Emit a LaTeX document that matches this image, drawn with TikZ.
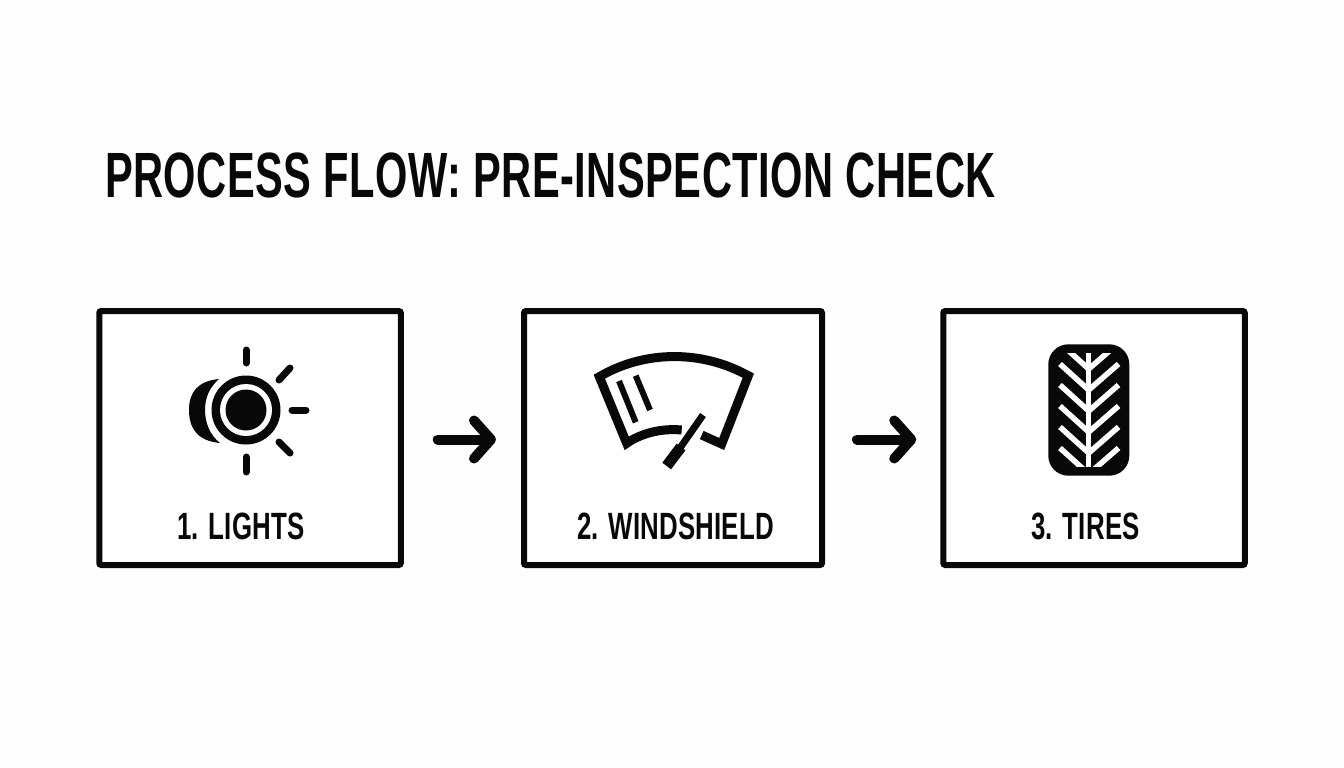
\documentclass[tikz,border=0pt]{standalone}
\usepackage{fontspec}
\setmainfont{Liberation Sans}
\newfontfamily\titlefont{Liberation Sans}[FakeStretch=0.65, LetterSpace=0.8]
\newfontfamily\labelfont{Liberation Sans}[FakeStretch=0.68, LetterSpace=0.5]
\usetikzlibrary{arrows.meta}

\definecolor{inkblack}{RGB}{8,8,8}
\definecolor{paperwhite}{RGB}{254,254,254}

\tikzset{
    stepbox/.style={draw=inkblack, line width=6pt, rounded corners=2pt, fill=white,
        minimum width=301.5pt, minimum height=254pt, inner sep=0pt},
    steplabel/.style={text=inkblack, font=\labelfont\fontsize{38}{38}\selectfont\bfseries, inner sep=0pt},
    flowarrow/.style={draw=inkblack, line width=10pt, line cap=round,
        -{Straight Barb[round, length=17pt, width=38pt, line width=10pt]}},
    ray/.style={draw=inkblack, line width=7pt, line cap=round},
    glass/.style={draw=inkblack, line width=9pt, miter limit=10},
    tread/.style={draw=white, line width=5.5pt}
}

\begin{document}
\begin{tikzpicture}[x=1pt, y=-1pt]

    \useasboundingbox [fill=paperwhite] (0,0) rectangle (1344,768);

    \node [anchor=west, inner sep=0pt, text=inkblack, font=\titlefont\fontsize{64}{64}\selectfont\bfseries] (title) at (105,175) {PROCESS FLOW: PRE-INSPECTION CHECK};

    \node [stepbox] (lights) at (250,438) {};
    \node [stepbox, minimum width=298pt] (wiper) at (673,438) {};
    \node [stepbox] (tires) at (1094,438) {};

    \node [steplabel] (lightslabel) at (241,526) {1. LIGHTS};
    \node [steplabel] (wiperlabel) at (675.5,526) {2. WINDSHIELD};
    \node [steplabel] (tireslabel) at (1085.5,526) {3. TIRES};

    \draw [flowarrow, shorten <=34pt, shorten >=25pt] ([yshift=-1.5pt]lights.east) -- ([yshift=-1.5pt]wiper.west);
    \draw [flowarrow, shorten <=32pt, shorten >=24pt] ([yshift=-1.5pt]wiper.east) -- ([yshift=-1.5pt]tires.west);

    % lights
    \fill [inkblack] (246,410) circle (34.5);
    \fill [white] (246,410) circle (26);
    \fill [inkblack] (246,410) circle (20.5);
    \fill [inkblack] (219,379) .. controls (198,381) and (189,392) .. (189,410)
        .. controls (189,430) and (199,441) .. (220,443)
        .. controls (210,435) and (205,423) .. (205,410)
        .. controls (205,397) and (210,387) .. (219,379) -- cycle;
    \draw [ray] (246,350) -- (246,363);
    \draw [ray] (246,457) -- (246,472);
    \draw [ray] (292,410) -- (306,410);
    \draw [ray] (279,380) -- (290,368);
    \draw [ray] (279,442) -- (290,453);

    % windshield
    \draw [glass] (681.7,430) .. controls (660,428) and (640,434) .. (626.7,443.3)
        -- (599.3,376.7) .. controls (645,350) and (702,350) .. (748.3,375.7)
        -- (721.7,444) -- (701.7,435);
    \draw [inkblack, line width=6pt] (619,381) -- (635.7,422.3);
    \draw [inkblack, line width=6pt] (635.7,375.7) -- (650,410);
    \draw [inkblack, line width=7pt] (703,415) -- (680,448);
    \draw [inkblack, line width=11pt] (681,447) -- (666.7,466);

    % tire
    \fill [inkblack, rounded corners=20pt] (1048.3,344.3) rectangle (1129.3,475.7);
    \begin{scope}
        \clip (1050,353.3) rectangle (1128,466.7);
        \foreach \y in {343,364,385,406,427,448} {
            \draw [tread] (1060,\y) -- (1088.7,\y+26) -- (1118.5,\y);
        }
        \draw [tread] (1088.7,353.3) -- (1088.7,466.7);
    \end{scope}

\end{tikzpicture}
\end{document}
